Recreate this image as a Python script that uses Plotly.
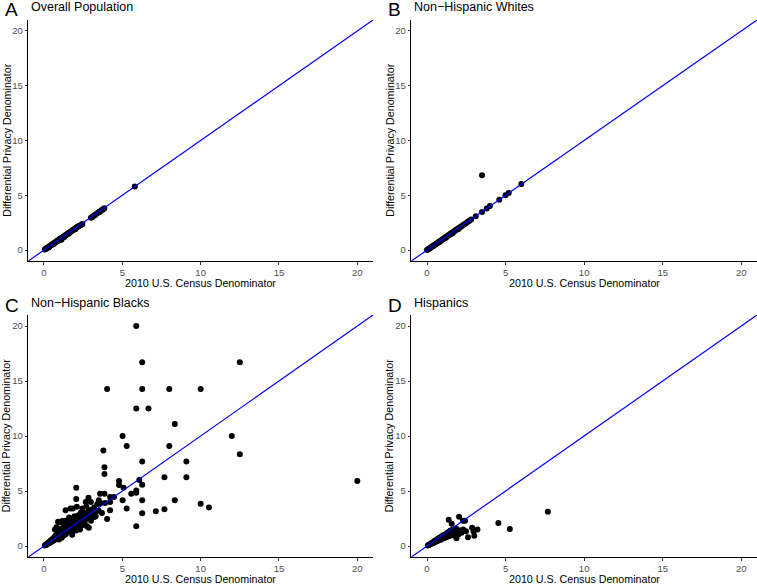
import plotly.graph_objects as go

# ---------------- data ----------------
panel_letters = ["A", "B", "C", "D"]
panel_titles = ["Overall Population", "Non\u2212Hispanic Whites", "Non\u2212Hispanic Blacks", "Hispanics"]
x_title = "2010 U.S. Census Denominator"
y_title = "Differential Privacy Denominator"
tick_vals = [0, 5, 10, 15, 20]
tick_text = ["0", "5", "10", "15", "20"]
axis_range = [-1, 21]
ref_line_x = [-1, 21]
ref_line_y = [-1, 21]

a_x = [0.05, 0.1, 0.15, 0.2, 0.25, 0.3, 0.35, 0.4, 0.45, 0.5, 0.55, 0.6, 0.65, 0.7, 0.75, 0.8, 0.85, 0.9,
       0.95, 1.0, 1.05, 1.1, 1.12, 1.15, 1.2, 1.25, 1.3, 1.35, 1.4, 1.45, 1.5, 1.55, 1.6, 1.65, 1.7, 1.75,
       1.8, 1.85, 1.9, 1.95, 2.0, 2.05, 2.1, 2.15, 2.2, 2.3, 2.4, 2.45, 0.3, 0.6, 0.9, 1.3, 1.6, 2.0,
       3.0, 3.05, 3.1, 3.2, 3.25, 3.3, 3.4, 3.5, 3.55, 3.6, 3.7, 3.75, 3.8, 3.85, 5.8]
a_y = [0.05, 0.1, 0.13, 0.2, 0.24, 0.3, 0.33, 0.4, 0.43, 0.5, 0.53, 0.6, 0.62, 0.7, 0.72, 0.8, 0.82, 0.9,
       0.92, 1.0, 1.02, 1.05, 0.95, 1.12, 1.18, 1.22, 1.28, 1.32, 1.38, 1.42, 1.48, 1.52, 1.58, 1.62, 1.68, 1.72,
       1.78, 1.82, 1.88, 1.92, 1.98, 2.02, 2.08, 2.12, 2.18, 2.25, 2.32, 2.38, 0.24, 0.52, 0.82, 1.18, 1.5, 1.9,
       2.95, 3.0, 3.05, 3.15, 3.2, 3.25, 3.35, 3.45, 3.5, 3.55, 3.65, 3.7, 3.75, 3.82, 5.8]

b_x = [0.0, 0.05, 0.1, 0.15, 0.2, 0.25, 0.3, 0.35, 0.4, 0.45, 0.5, 0.55, 0.6, 0.65, 0.7, 0.75, 0.8, 0.85,
       0.9, 0.95, 1.0, 1.05, 1.1, 1.15, 1.2, 1.25, 1.3, 1.35, 1.4, 1.45, 1.5, 1.55, 1.6, 1.65, 1.7, 1.75,
       1.8, 1.85, 1.9, 1.95, 2.0, 2.1, 2.2, 2.3, 2.4, 2.5, 2.6, 2.7, 2.8, 0.4, 0.8, 1.2, 1.6, 2.0,
       3.1, 3.5, 3.8, 4.0, 4.6, 5.0, 5.2, 6.0, 3.5]
b_y = [0.0, 0.05, 0.09, 0.14, 0.19, 0.24, 0.29, 0.34, 0.39, 0.43, 0.48, 0.53, 0.58, 0.63, 0.68, 0.73, 0.78, 0.83,
       0.88, 0.93, 0.98, 1.03, 1.08, 1.13, 1.18, 1.23, 1.28, 1.33, 1.38, 1.43, 1.48, 1.53, 1.58, 1.63, 1.68, 1.73,
       1.78, 1.83, 1.88, 1.93, 1.98, 2.08, 2.18, 2.28, 2.38, 2.48, 2.58, 2.68, 2.78, 0.36, 0.74, 1.12, 1.52, 1.92,
       3.08, 3.48, 3.8, 4.02, 4.6, 5.0, 5.2, 6.02, 6.82]

c_x = [0.05, 0.1, 0.15, 0.2, 0.25, 0.3, 0.3, 0.35, 0.4, 0.4, 0.45, 0.5, 0.5, 0.55, 0.6, 0.6, 0.65, 0.7,
       0.7, 0.75, 0.75, 0.8, 0.8, 0.85, 0.9, 0.9, 0.95, 0.95, 1.0, 1.0, 1.0, 1.05, 1.05, 1.1, 1.1, 1.15,
       1.15, 1.2, 1.2, 1.25, 1.25, 1.3, 1.3, 1.3, 1.35, 1.4, 1.4, 1.4, 1.45, 1.5, 1.5, 1.5, 1.55, 1.6,
       1.6, 1.65, 1.7, 1.7, 1.75, 1.8, 1.8, 1.85, 1.9, 1.9, 1.95, 2.0, 2.0, 2.05, 2.1, 2.1, 2.15, 2.2,
       2.2, 2.25, 2.3, 2.3, 2.35, 2.4, 2.45, 2.5, 2.5, 2.55, 2.6, 2.6, 2.7, 2.7, 2.75, 2.8, 2.85, 2.9,
       3.0, 3.0, 3.1, 3.2, 3.3, 3.4, 3.5, 3.6, 3.7, 3.9, 0.9, 1.0, 1.17, 0.7, 0.8, 1.2, 1.6, 1.35,
       5.89, 6.27, 12.5, 4.03, 6.27, 8.0, 10.0, 5.89, 6.67, 8.35, 5.02, 11.99, 5.28, 8.0, 3.79, 12.5,
       3.86, 6.27, 9.09, 3.86, 7.69, 9.09, 20.0, 4.79, 4.79, 6.08, 5.89, 6.27, 5.08, 5.57, 5.89, 5.02,
       6.27, 8.35, 10.0, 10.53, 5.28, 7.69, 7.14, 6.27, 5.89, 4.03, 4.22, 4.22, 4.47, 4.22, 3.86, 3.58,
       3.5, 2.06, 2.06, 2.84, 2.67, 2.99, 1.38, 1.69, 1.84, 2.1, 2.35, 3.26, 3.22, 2.86, 2.48, 1.8, 1.14]
c_y = [0.05, 0.12, 0.1, 0.22, 0.2, 0.35, 0.25, 0.3, 0.45, 0.32, 0.5, 0.42, 0.6, 0.48, 0.7, 0.5, 0.55, 0.85,
       0.6, 0.65, 0.95, 0.7, 1.0, 0.75, 1.1, 0.8, 0.6, 1.2, 0.9, 1.3, 0.7, 1.5, 0.95, 1.2, 0.8, 1.6,
       1.0, 1.4, 0.9, 1.7, 1.1, 1.5, 2.0, 1.0, 1.2, 1.8, 2.2, 1.1, 1.5, 1.3, 2.0, 1.7, 2.3, 1.4,
       1.9, 2.1, 1.5, 2.5, 1.8, 2.0, 1.3, 2.4, 1.6, 2.2, 2.7, 1.8, 2.3, 1.4, 2.6, 2.0, 1.7, 2.8,
       2.2, 1.9, 2.5, 1.5, 2.9, 2.1, 3.4, 2.4, 1.9, 2.7, 3.0, 2.2, 2.5, 3.6, 1.8, 2.9, 3.2, 2.6,
       3.3, 2.3, 2.9, 3.5, 2.7, 3.8, 3.2, 3.9, 3.0, 3.9, 2.2, 2.15, 2.27, 1.5, 1.7, 2.1, 2.6, 2.3,
       20.0, 16.7, 16.7, 14.28, 14.28, 14.28, 14.28, 12.5, 12.5, 11.1, 10.0, 10.0, 9.1, 9.1, 8.68, 8.35,
       7.17, 7.69, 7.69, 6.54, 6.26, 6.26, 5.9, 5.9, 5.54, 5.99, 5.05, 5.57, 5.3, 4.75, 4.84, 4.15,
       4.15, 4.15, 3.84, 3.51, 3.42, 3.33, 3.15, 2.97, 1.79, 2.45, 3.24, 4.0, 4.45, 4.45, 4.75, 4.75,
       4.17, 5.3, 4.27, 4.39, 4.0, 4.0, 3.24, 3.42, 3.42, 3.57, 3.03, 2.97, 2.63, 1.66, 2.09, 1.03, 0.76]

d_x = [0.05, 0.1, 0.15, 0.2, 0.25, 0.3, 0.3, 0.35, 0.4, 0.4, 0.45, 0.5, 0.5, 0.55, 0.6, 0.6, 0.65, 0.7,
       0.7, 0.75, 0.8, 0.8, 0.85, 0.9, 0.9, 0.95, 1.0, 1.0, 1.05, 1.1, 1.1, 1.15, 1.2, 1.2, 1.25, 1.3,
       1.3, 1.35, 1.4, 1.4, 1.45, 1.5, 1.5, 1.55, 1.6, 1.65, 1.7, 1.75, 1.8, 1.85, 1.9, 2.0, 2.1, 2.2,
       2.3, 7.69, 4.54, 5.27, 2.04, 1.38, 2.42, 2.29, 3.21, 2.87, 2.96, 3.01, 2.61, 2.48, 1.87, 1.57, 1.99]
d_y = [0.04, 0.1, 0.12, 0.18, 0.2, 0.28, 0.22, 0.3, 0.35, 0.28, 0.42, 0.38, 0.48, 0.4, 0.55, 0.42, 0.5, 0.65,
       0.48, 0.55, 0.75, 0.55, 0.62, 0.85, 0.6, 0.7, 0.95, 0.68, 0.8, 1.0, 0.72, 0.85, 1.1, 0.8, 0.95, 1.2,
       0.85, 1.0, 1.3, 0.9, 1.1, 1.4, 0.95, 1.2, 1.0, 1.5, 1.1, 1.3, 0.9, 1.6, 1.2, 1.05, 1.4, 1.2,
       1.5, 3.12, 2.09, 1.54, 2.66, 2.39, 2.3, 2.3, 1.51, 1.66, 1.33, 0.94, 0.79, 1.33, 0.7, 2.03, 1.12]

panel_x = [a_x, b_x, c_x, d_x]
panel_y = [a_y, b_y, c_y, d_y]

# ---------------- layout geometry ----------------
W, H = 757, 584
col_px = [(28.3, 373.0), (411.3, 757.0)]
row_px = [(20.0, 261.0), (315.0, 557.0)]

FONT = "Liberation Sans, Arial, Helvetica, sans-serif"

fig = go.Figure()
annotations = []
layout_axes = {}

for i in range(4):
    r, c = divmod(i, 2)
    n = i + 1
    xa = "x" if n == 1 else f"x{n}"
    ya = "y" if n == 1 else f"y{n}"
    fig.add_trace(go.Scatter(
        x=panel_x[i], y=panel_y[i], mode="markers",
        marker=dict(color="black", size=6, line=dict(width=0)),
        xaxis=xa, yaxis=ya, showlegend=False, hoverinfo="x+y"))
    fig.add_trace(go.Scatter(
        x=ref_line_x, y=ref_line_y, mode="lines",
        line=dict(color="#0000FF", width=1.2),
        xaxis=xa, yaxis=ya, showlegend=False, hoverinfo="skip"))

    x0, x1 = col_px[c]
    y0, y1 = row_px[r]
    common = dict(
        range=axis_range, tickvals=tick_vals, ticktext=tick_text,
        showgrid=False, zeroline=False, showline=True, linecolor="black", linewidth=1,
        ticks="outside", ticklen=2.5, tickwidth=1, tickcolor="#333333",
        tickfont=dict(family=FONT, size=9.5, color="#4d4d4d"), fixedrange=True,
    )
    layout_axes["xaxis" if n == 1 else f"xaxis{n}"] = dict(
        common, domain=[x0 / W, x1 / W], anchor=ya)
    layout_axes["yaxis" if n == 1 else f"yaxis{n}"] = dict(
        common, domain=[1 - y1 / H, 1 - y0 / H], anchor=xa)

    # panel letter & title
    annotations.append(dict(
        text=panel_letters[i], x=(x0 - 25.5) / W, y=1 - (y0 - 10) / H,
        xref="paper", yref="paper", xanchor="left", yanchor="middle", showarrow=False,
        font=dict(family=FONT, size=19, color="black")))
    annotations.append(dict(
        text=panel_titles[i], x=(x0 + 0.5) / W, y=1 - (y0 - 12.5) / H,
        xref="paper", yref="paper", xanchor="left", yanchor="middle", showarrow=False,
        font=dict(family=FONT, size=12.5, color="black")))
    # axis titles
    annotations.append(dict(
        text=x_title, x=(x0 + x1) / 2 / W, y=1 - (y1 + 21.5) / H,
        xref="paper", yref="paper", xanchor="center", yanchor="middle", showarrow=False,
        font=dict(family=FONT, size=10.7, color="black")))
    annotations.append(dict(
        text=y_title, x=(x0 - 22) / W, y=1 - (y0 + y1) / 2 / H, textangle=-90,
        xref="paper", yref="paper", xanchor="center", yanchor="middle", showarrow=False,
        font=dict(family=FONT, size=10.7, color="black")))

fig.update_layout(
    width=W, height=H,
    margin=dict(l=0, r=0, t=0, b=0),
    paper_bgcolor="white", plot_bgcolor="white",
    annotations=annotations,
    **layout_axes,
)

fig.write_html("out.html",
               config={"displayModeBar": False},
               post_script="document.body.style.margin='0';document.body.style.padding='0';")
